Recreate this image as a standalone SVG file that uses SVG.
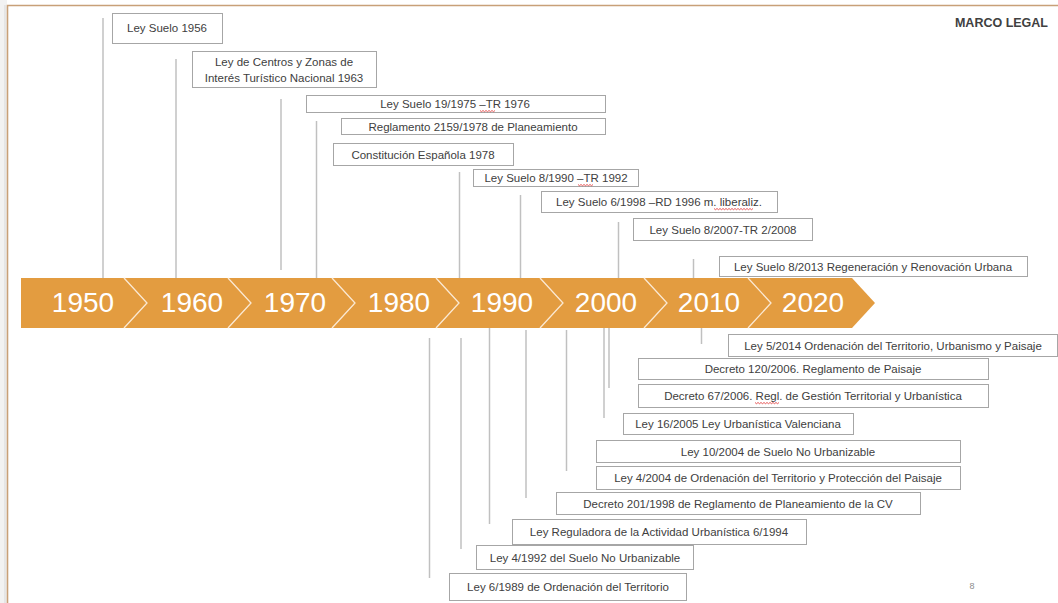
<svg xmlns="http://www.w3.org/2000/svg" width="1058" height="603" viewBox="0 0 1058 603">
<defs>
<style>
.box{fill:#ffffff;stroke:#a6a6a6;stroke-width:1}
.t{font-family:"Liberation Sans",Arial,sans-serif;font-size:11.5px;fill:#404040;text-anchor:middle}
.yr{font-family:"Liberation Sans",Arial,sans-serif;font-size:28px;fill:#ffffff;text-anchor:middle}
.ln{stroke:#c0c0c0;stroke-width:1.5;fill:none}
.div{stroke:#fbe9d3;stroke-width:1.3;fill:none}
.sq{stroke:#e03030;stroke-width:0.8;fill:none}
</style>
</defs>
<rect x="0" y="0" width="1058" height="603" fill="#ffffff"/>
<rect x="0" y="0" width="7" height="603" fill="#f2f2f2"/>
<line x1="5" y1="5" x2="5" y2="603" stroke="#d9d9d9" stroke-width="1"/>
<path d="M7.5 603 V5.5 H1058" fill="none" stroke="#c8a078" stroke-width="1.6"/>

<g id="connectors">
<line class="ln" x1="103" y1="18" x2="103" y2="278"/>
<line class="ln" x1="176" y1="59" x2="176" y2="278"/>
<line class="ln" x1="281" y1="99" x2="281" y2="270"/>
<line class="ln" x1="316.5" y1="121" x2="316.5" y2="278"/>
<line class="ln" x1="459.5" y1="172" x2="459.5" y2="278"/>
<line class="ln" x1="520.5" y1="195" x2="520.5" y2="278"/>
<line class="ln" x1="618.5" y1="222" x2="618.5" y2="278"/>
<line class="ln" x1="693.5" y1="259" x2="693.5" y2="278"/>
<line class="ln" x1="429.5" y1="338" x2="429.5" y2="578"/>
<line class="ln" x1="461" y1="338" x2="461" y2="549"/>
<line class="ln" x1="489.5" y1="328" x2="489.5" y2="524"/>
<line class="ln" x1="526" y1="330" x2="526" y2="498"/>
<line class="ln" x1="566.5" y1="330" x2="566.5" y2="471"/>
<line class="ln" x1="604" y1="328" x2="604" y2="418"/>
<line class="ln" x1="609" y1="328" x2="609" y2="388"/>
<line class="ln" x1="701.5" y1="328" x2="701.5" y2="344"/>
</g>

<g id="timeline">
<polygon points="21,278 852,278 875,303 852,328 21,328" fill="#e39c40"/>
<polyline class="div" points="124,278 147,303 124,328"/>
<polyline class="div" points="228,278 251,303 228,328"/>
<polyline class="div" points="332,278 355,303 332,328"/>
<polyline class="div" points="436,278 459,303 436,328"/>
<polyline class="div" points="540,278 563,303 540,328"/>
<polyline class="div" points="644,278 667,303 644,328"/>
<polyline class="div" points="748,278 771,303 748,328"/>
<text class="yr" x="83" y="312">1950</text>
<text class="yr" x="192" y="312">1960</text>
<text class="yr" x="295" y="312">1970</text>
<text class="yr" x="399" y="312">1980</text>
<text class="yr" x="502" y="312">1990</text>
<text class="yr" x="606" y="312">2000</text>
<text class="yr" x="709" y="312">2010</text>
<text class="yr" x="813" y="312">2020</text>
</g>

<g id="n1956"><rect class="box" x="112.5" y="13.5" width="110" height="30"/><text class="t" x="167" y="32">Ley Suelo 1956</text></g>
<g id="n1963"><rect class="box" x="192.5" y="51.5" width="184" height="36"/><text class="t" x="284" y="66">Ley de Centros y Zonas de</text><text class="t" x="284" y="82">Interés Turístico Nacional 1963</text></g>
<g id="n1975"><rect class="box" x="306.5" y="95.5" width="299" height="17"/><text class="t" x="455" y="108">Ley Suelo 19/1975 –TR 1976</text><path class="sq" d="M480 110.5 l1.5 1.2 l1.5 -1.2 l1.5 1.2 l1.5 -1.2 l1.5 1.2 l1.5 -1.2 l1.5 1.2 l1.5 -1.2 l1.5 1.2 l1.5 -1.2"/></g>
<g id="n1978r"><rect class="box" x="341.5" y="118.5" width="264" height="16"/><text class="t" x="473" y="130.5">Reglamento 2159/1978 de Planeamiento</text></g>
<g id="n1978c"><rect class="box" x="333.5" y="143.5" width="180" height="22"/><text class="t" x="423" y="158.5">Constitución Española 1978</text></g>
<g id="n1990"><rect class="box" x="473.5" y="169.5" width="165" height="17"/><text class="t" x="556" y="182">Ley Suelo 8/1990 –TR 1992</text><path class="sq" d="M578 184.5 l1.5 1.2 l1.5 -1.2 l1.5 1.2 l1.5 -1.2 l1.5 1.2 l1.5 -1.2 l1.5 1.2 l1.5 -1.2 l1.5 1.2 l1.5 -1.2"/></g>
<g id="n1998"><rect class="box" x="541.5" y="191.5" width="236" height="21"/><text class="t" x="659" y="206">Ley Suelo 6/1998 –RD 1996 m. liberaliz.</text><path class="sq" d="M714 208.5 l1.5 1.2 l1.5 -1.2 l1.5 1.2 l1.5 -1.2 l1.5 1.2 l1.5 -1.2 l1.5 1.2 l1.5 -1.2 l1.5 1.2 l1.5 -1.2 l1.5 1.2 l1.5 -1.2 l1.5 1.2 l1.5 -1.2 l1.5 1.2 l1.5 -1.2 l1.5 1.2 l1.5 -1.2 l1.5 1.2 l1.5 -1.2 l1.5 1.2 l1.5 -1.2 l1.5 1.2 l1.5 -1.2 l1.5 1.2 l1.5 -1.2"/></g>
<g id="n2007"><rect class="box" x="633.5" y="218.5" width="179" height="22"/><text class="t" x="723" y="233.5">Ley Suelo 8/2007-TR 2/2008</text></g>
<g id="n2013"><rect class="box" x="719.5" y="256.5" width="308" height="20"/><text class="t" x="873" y="270.5">Ley Suelo 8/2013 Regeneración y Renovación Urbana</text></g>

<g id="n2014"><rect class="box" x="728.5" y="334.5" width="329" height="22"/><text class="t" x="893" y="349.5">Ley 5/2014 Ordenación del Territorio, Urbanismo y Paisaje</text></g>
<g id="n2006a"><rect class="box" x="638.5" y="358.5" width="350" height="21"/><text class="t" x="813" y="373">Decreto 120/2006. Reglamento de Paisaje</text></g>
<g id="n2006b"><rect class="box" x="638.5" y="384.5" width="350" height="23"/><text class="t" x="813" y="400">Decreto 67/2006. Regl. de Gestión Territorial y Urbanística</text><path class="sq" d="M755 402.5 l1.5 1.2 l1.5 -1.2 l1.5 1.2 l1.5 -1.2 l1.5 1.2 l1.5 -1.2 l1.5 1.2 l1.5 -1.2 l1.5 1.2 l1.5 -1.2 l1.5 1.2 l1.5 -1.2 l1.5 1.2 l1.5 -1.2 l1.5 1.2 l1.5 -1.2"/></g>
<g id="n2005"><rect class="box" x="623.5" y="413.5" width="230" height="21"/><text class="t" x="738" y="428">Ley 16/2005 Ley Urbanística Valenciana</text></g>
<g id="n2004a"><rect class="box" x="596.5" y="440.5" width="364" height="22"/><text class="t" x="778" y="455.5">Ley 10/2004 de Suelo No Urbanizable</text></g>
<g id="n2004b"><rect class="box" x="596.5" y="466.5" width="364" height="23"/><text class="t" x="778" y="482">Ley 4/2004 de Ordenación del Territorio y Protección del Paisaje</text></g>
<g id="n1998cv"><rect class="box" x="556.5" y="492.5" width="364" height="22"/><text class="t" x="738" y="507.5">Decreto 201/1998 de Reglamento de Planeamiento de la CV</text></g>
<g id="n1994"><rect class="box" x="512.5" y="519.5" width="294" height="25"/><text class="t" x="659" y="536">Ley Reguladora de la Actividad Urbanística 6/1994</text></g>
<g id="n1992"><rect class="box" x="476.5" y="545.5" width="217" height="24"/><text class="t" x="585" y="561.5">Ley 4/1992 del Suelo No Urbanizable</text></g>
<g id="n1989"><rect class="box" x="449.5" y="573.5" width="237" height="27"/><text class="t" x="568" y="591">Ley 6/1989 de Ordenación del Territorio</text></g>

<text x="1048" y="27" font-family="'Liberation Sans',Arial,sans-serif" font-size="12.5" font-weight="bold" fill="#404040" text-anchor="end">MARCO LEGAL</text>
<text x="972" y="589" font-family="'Liberation Sans',Arial,sans-serif" font-size="9" fill="#8c8c8c" text-anchor="middle">8</text>
</svg>
